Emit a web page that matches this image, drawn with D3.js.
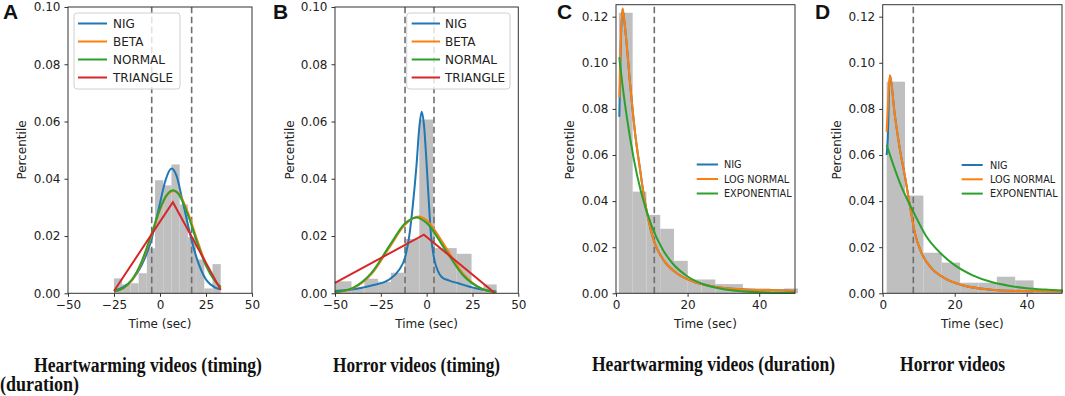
<!DOCTYPE html>
<html>
<head>
<meta charset="utf-8">
<script src="https://cdn.jsdelivr.net/npm/d3@7"></script>
<style>
  body { margin: 0; background: #fff; }
  svg { display: block; }
</style>
</head>
<body>
<div id="chart"></div>
<script>
// ---- histogram bins (edges + heights) ----
const aEdges = [-25, -20.54, -16.08, -11.62, -7.15, -2.69, 1.77, 6.23, 10.69, 15.15, 19.62, 24.08, 28.54, 33];
const aHeights = [0.0052, 0.0031, 0.0035, 0.007, 0.0157, 0.0395, 0.0377, 0.045, 0.031, 0.0196, 0.0118, 0.0017, 0.0102];

const bEdges = [-50, -41, -34, -26.5, -19.5, -12, -4, 3.5, 4.5, 16.4, 24.5, 31, 38.2];
const bHeights = [0.0042, 0.0016, 0.0051, 0.004, 0.0072, 0.019, 0.0607, 0.0296, 0.0158, 0.0138, 0.0016, 0.0031];

const cEdges = [0.8, 4.65, 8.5, 12.35, 16.2, 20.05, 23.9, 27.75, 31.6, 35.45, 39.3, 43.15, 47, 50.85];
const cHeights = [0.1217, 0.0441, 0.034, 0.028, 0.0141, 0.006, 0.006, 0.004, 0.004, 0.0021, 0.0021, 0.0006, 0.0021];

const dEdges = [1.1, 6.2, 11.3, 16.4, 21.5, 26.6, 31.7, 36.8, 41.9];
const dHeights = [0.0918, 0.0424, 0.0176, 0.0133, 0.0046, 0.0046, 0.0072, 0.0056];

// ---- dashed markers ----
const aMarks = [-4.5, 17.2];
const bMarks = [-11.8, 4.0];
const cMarks = [10.7];
const dMarks = [8.5];

// ---- fitted curves, [time, percentile] ----
const aNig = [[-25, 0.001], [-20, 0.0022], [-15, 0.0048], [-10, 0.0098], [-5, 0.018], [0, 0.0315], [3, 0.0395], [6.3, 0.0436], [9, 0.041], [12, 0.033], [15, 0.0245], [17.2, 0.0185], [20, 0.0122], [25, 0.0048], [30, 0.002], [33, 0.0014]];
const aBeta = [[-25, 0.0006], [-20, 0.0017], [-15, 0.0047], [-10, 0.0106], [-5, 0.0195], [0, 0.0291], [3, 0.0334], [7.5, 0.0357], [10, 0.035], [15, 0.0285], [20, 0.019], [25, 0.0102], [30, 0.0043], [33, 0.0019]];
const aNormal = [[-25, 0.0006], [-20, 0.0018], [-15, 0.005], [-10, 0.0111], [-5, 0.02], [0, 0.0295], [3, 0.0337], [7, 0.036], [10, 0.0347], [15, 0.0277], [20, 0.0181], [25, 0.0096], [30, 0.0042], [33, 0.0023]];
const aTriangle = [[-25, 0.0008], [7, 0.0318], [33, 0.0012]];

const bNig = [[-50, 0.0008], [-40, 0.0014], [-30, 0.0027], [-20, 0.005], [-15, 0.0082], [-11.8, 0.0125], [-9.5, 0.02], [-7.5, 0.031], [-5.5, 0.045], [-4, 0.058], [-2.7, 0.0634], [-1.5, 0.059], [0, 0.045], [1, 0.034], [2.4, 0.02], [4.3, 0.0115], [6, 0.008], [8.2, 0.0057], [12, 0.0045], [17.3, 0.0035], [25, 0.002], [30, 0.0013], [38, 0.0006]];
const bBeta = [[-50, 0.0003], [-40, 0.0018], [-30, 0.0068], [-20, 0.0163], [-12, 0.0238], [-4, 0.0268], [0, 0.0255], [10, 0.0165], [20, 0.0068], [30, 0.0016], [37, 0.0003]];
const bNormal = [[-50, 0.0004], [-40, 0.002], [-30, 0.0072], [-20, 0.0169], [-12, 0.0243], [-5.7, 0.0265], [0, 0.0246], [10, 0.0154], [20, 0.0062], [30, 0.0016], [38, 0.0004]];
const bTriangle = [[-50, 0.0036], [-1.5, 0.0205], [37, 0.0002]];

const cNig = [[0.93, 0.0766], [1.3, 0.105], [1.8, 0.1236], [2.5, 0.1157], [3.93, 0.0911], [5.34, 0.0694], [6.74, 0.0535], [7.68, 0.0434], [9.08, 0.0318], [10.5, 0.0231], [13.3, 0.0144], [17, 0.0087], [21.7, 0.005], [26.4, 0.0032], [35.8, 0.0017], [48.9, 0.0011], [50, 0.001]];
const cLogNormal = [[0.93, 0.085], [1.3, 0.108], [1.8, 0.1236], [2.5, 0.1157], [3.93, 0.0911], [5.34, 0.0694], [6.74, 0.0535], [7.68, 0.0434], [9.08, 0.0318], [10.5, 0.0231], [13.3, 0.0144], [17, 0.0087], [21.7, 0.005], [26.4, 0.0032], [35.8, 0.0017], [48.9, 0.0011], [50, 0.001]];
const cExp = [[0.93, 0.1024], [2, 0.088], [3, 0.0767], [5, 0.058], [7, 0.0439], [10, 0.029], [13, 0.0191], [16, 0.0126], [20, 0.0073], [25, 0.0036], [30, 0.0018], [35, 0.0009], [40, 0.0005], [50, 0.0002]];

const dNig = [[1.1, 0.06], [1.4, 0.0665], [1.95, 0.0945], [3.42, 0.0766], [4.8, 0.0622], [6.2, 0.0506], [7.6, 0.0376], [8.97, 0.026], [10.8, 0.0174], [13.6, 0.0108], [17.3, 0.0065], [21.9, 0.0036], [29.3, 0.0017], [38.6, 0.001], [50, 0.0008]];
const dLogNormal = [[1.1, 0.0701], [1.5, 0.083], [1.95, 0.0945], [3.42, 0.0766], [4.8, 0.0622], [6.2, 0.0506], [7.6, 0.0376], [8.97, 0.026], [10.8, 0.0174], [13.6, 0.0108], [17.3, 0.0065], [21.9, 0.0036], [29.3, 0.0017], [38.6, 0.001], [50, 0.0008]];
const dExp = [[1.1, 0.0643], [3, 0.0555], [5, 0.047], [8.5, 0.0354], [12, 0.025], [16, 0.0175], [20, 0.0122], [25, 0.0078], [30, 0.005], [35, 0.0033], [40, 0.0022], [45, 0.0016], [50, 0.0012]];

// ---- ticks & labels ----
const timingTicks = [-50, -25, 0, 25, 50];
const durationTicks = [0, 20, 40];
const timingYTicks = [0, 0.02, 0.04, 0.06, 0.08, 0.10];
const durationYTicks = [0, 0.02, 0.04, 0.06, 0.08, 0.10, 0.12];
const timingNames = ["NIG", "BETA", "NORMAL", "TRIANGLE"];
const durationNames = ["NIG", "LOG NORMAL", "EXPONENTIAL"];
const panelLetters = ["A", "B", "C", "D"];
const captions = ["Heartwarming videos (timing)", "(duration)", "Horror videos (timing)", "Heartwarming videos (duration)", "Horror videos"];

const colors = ["#1f77b4", "#ff7f0e", "#2ca02c", "#d62728"];

document.addEventListener("DOMContentLoaded", () => {
    const W = 1065, H = 396;
    const svg = d3.select("#chart").append("svg")
        .attr("width", W).attr("height", H)
        .style("background", "#fff");

    const fmtX = d => d < 0 ? "\u2212" + Math.abs(d) : String(d);

    function drawPanel(p) {
        const x = d3.scaleLinear().domain(p.xDomain).range([p.left, p.right]);
        const y = d3.scaleLinear().domain(p.yDomain).range([293.3, p.top]);
        const g = svg.append("g");

        // histogram
        const bins = p.heights.map((h, i) => ({ x0: p.edges[i], x1: p.edges[i + 1], h: h }));
        g.selectAll("rect.bar").data(bins).enter().append("rect")
            .attr("class", "bar")
            .attr("x", d => x(d.x0))
            .attr("y", d => y(d.h))
            .attr("width", d => x(d.x1) - x(d.x0))
            .attr("height", d => y(0) - y(d.h))
            .attr("fill", "#bfbfbf");

        // dashed markers
        g.selectAll("line.mark").data(p.marks).enter().append("line")
            .attr("x1", d => x(d)).attr("x2", d => x(d))
            .attr("y1", y(0)).attr("y2", p.top)
            .attr("stroke", "#6f6f6f").attr("stroke-width", 1.6)
            .attr("stroke-dasharray", "6.5,3.5");

        // fitted curves
        p.series.forEach((s, i) => {
            const line = d3.line()
                .x(d => x(d[0])).y(d => y(d[1]))
                .curve(s.linear ? d3.curveLinear : d3.curveMonotoneX);
            g.append("path").datum(s.pts)
                .attr("d", line)
                .attr("fill", "none")
                .attr("stroke", colors[i])
                .attr("stroke-width", 2);
        });

        // frame
        g.append("rect")
            .attr("x", p.left).attr("y", p.top)
            .attr("width", p.right - p.left).attr("height", y(0) - p.top)
            .attr("fill", "none").attr("stroke", "#333").attr("stroke-width", 1);

        // axes
        const ax = g.append("g").attr("transform", `translate(0,${y(0)})`)
            .call(d3.axisBottom(x).tickValues(p.xTicks).tickFormat(fmtX).tickSizeOuter(0).tickSize(3.5).tickPadding(3.5));
        const ay = g.append("g").attr("transform", `translate(${p.left},0)`)
            .call(d3.axisLeft(y).tickValues(p.yTicks).tickFormat(d3.format(".2f")).tickSizeOuter(0).tickSize(3.5).tickPadding(4));
        [ax, ay].forEach(a => {
            a.select(".domain").remove();
            a.selectAll("line").attr("stroke", "#333");
            a.selectAll("text").attr("fill", "#222")
                .style("font-family", "'DejaVu Sans', sans-serif").style("font-size", "12px");
        });

        // axis titles
        g.append("text")
            .attr("x", (p.left + p.right) / 2).attr("y", 327.5)
            .attr("text-anchor", "middle")
            .style("font-family", "'DejaVu Sans', sans-serif").style("font-size", "12px")
            .attr("fill", "#222")
            .text("Time (sec)");
        g.append("text")
            .attr("transform", `translate(${p.yLabelX},150) rotate(-90)`)
            .attr("dy", "0.35em")
            .attr("text-anchor", "middle")
            .style("font-family", "'DejaVu Sans', sans-serif").style("font-size", "12px")
            .attr("fill", "#222")
            .text("Percentile");

        // panel letter
        g.append("text")
            .attr("x", p.letterX).attr("y", 19)
            .style("font-family", "'Liberation Sans', Arial, sans-serif")
            .style("font-weight", "bold").style("font-size", "21px")
            .attr("fill", "#111")
            .text(p.letter);

        // legend
        const L = p.legend;
        if (L.frame) {
            g.append("rect")
                .attr("x", L.frame[0]).attr("y", L.frame[1])
                .attr("width", L.frame[2]).attr("height", L.frame[3])
                .attr("rx", 3)
                .attr("fill", "#fff").attr("fill-opacity", 0.8)
                .attr("stroke", "#d0d0d0");
        }
        const items = g.selectAll("g.leg").data(p.names).enter().append("g")
            .attr("transform", (d, i) => `translate(0,${L.y0 + i * L.step})`);
        items.append("line")
            .attr("x1", L.lx0).attr("x2", L.lx1)
            .attr("stroke", (d, i) => colors[i]).attr("stroke-width", 2);
        items.append("text")
            .attr("x", L.tx).attr("dy", "0.36em")
            .style("font-family", "'DejaVu Sans', sans-serif").style("font-size", L.size + "px")
            .attr("fill", "#222")
            .text(d => d);
    }

    drawPanel({
        letter: panelLetters[0], letterX: 3, left: 68, right: 252, top: 7,
        xDomain: [-50, 50], yDomain: [0, 0.1], xTicks: timingTicks, yTicks: timingYTicks,
        edges: aEdges, heights: aHeights, marks: aMarks, yLabelX: 21.7,
        series: [{ pts: aNig }, { pts: aBeta }, { pts: aNormal }, { pts: aTriangle, linear: true }],
        names: timingNames,
        legend: { frame: [74, 13, 106, 76], y0: 23.5, step: 18, lx0: 78, lx1: 107, tx: 113, size: 12 }
    });

    drawPanel({
        letter: panelLetters[1], letterX: 273, left: 335, right: 518.3, top: 7,
        xDomain: [-50, 50], yDomain: [0, 0.1], xTicks: timingTicks, yTicks: timingYTicks,
        edges: bEdges, heights: bHeights, marks: bMarks, yLabelX: 289.3,
        series: [{ pts: bNig }, { pts: bBeta }, { pts: bNormal }, { pts: bTriangle, linear: true }],
        names: timingNames,
        legend: { frame: [406.7, 13, 103.3, 76], y0: 23.5, step: 18, lx0: 411.7, lx1: 440, tx: 445, size: 12 }
    });

    drawPanel({
        letter: panelLetters[2], letterX: 557, left: 616, right: 795, top: 4.7,
        xDomain: [0, 50], yDomain: [0, 0.1252], xTicks: durationTicks, yTicks: durationYTicks,
        edges: cEdges, heights: cHeights, marks: cMarks, yLabelX: 569.3,
        series: [{ pts: cNig }, { pts: cLogNormal }, { pts: cExp }],
        names: durationNames,
        legend: { frame: null, y0: 164.5, step: 14.5, lx0: 696.7, lx1: 718, tx: 724, size: 9.7 }
    });

    drawPanel({
        letter: panelLetters[3], letterX: 815, left: 882.7, right: 1062, top: 4.7,
        xDomain: [0, 49.8], yDomain: [0, 0.1252], xTicks: durationTicks, yTicks: durationYTicks,
        edges: dEdges, heights: dHeights, marks: dMarks, yLabelX: 836.7,
        series: [{ pts: dNig }, { pts: dLogNormal }, { pts: dExp }],
        names: durationNames,
        legend: { frame: null, y0: 165, step: 14.3, lx0: 961.7, lx1: 982.7, tx: 990, size: 9.7 }
    });

    // captions under the panels
    const capPos = [[34, 372, 228], [0, 391, 79], [333, 372, 167], [592, 371, 243], [900, 371, 105]];
    svg.selectAll("text.cap").data(captions).enter().append("text")
        .attr("class", "cap")
        .attr("x", (d, i) => capPos[i][0])
        .attr("y", (d, i) => capPos[i][1])
        .attr("textLength", (d, i) => capPos[i][2])
        .attr("lengthAdjust", "spacingAndGlyphs")
        .style("font-family", "'Liberation Serif', 'Times New Roman', serif")
        .style("font-weight", "bold").style("font-size", "20px")
        .attr("fill", "#111")
        .text(d => d);
});
</script>
</body>
</html>
